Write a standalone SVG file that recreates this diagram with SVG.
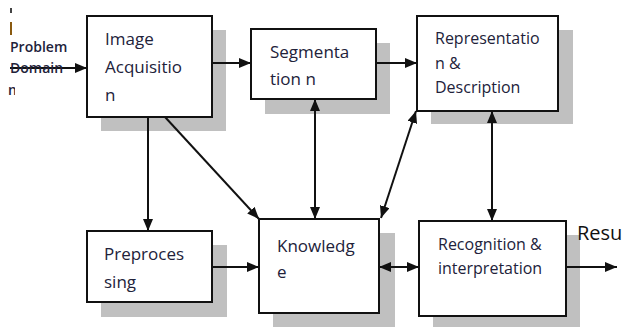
<svg xmlns="http://www.w3.org/2000/svg" width="624" height="327" viewBox="0 0 624 327">
<defs>
<style>
.box{fill:#fff;stroke:#111;stroke-width:2}
.sh{fill:#c0c0c0}
.t{font-family:"Open Sans","DejaVu Sans",sans-serif;font-size:17px;fill:#22223a}
.s{font-size:16px}
.c{stroke:#111;stroke-width:2;fill:none}
</style>
<marker id="ah" viewBox="0 0 12 10" refX="12" refY="5" markerWidth="12" markerHeight="10" markerUnits="userSpaceOnUse" orient="auto-start-reverse">
<path d="M0,0 L12,5 L0,10 Z" fill="#111"/>
</marker>
<clipPath id="clipL"><rect x="0" y="80" width="15" height="20"/></clipPath>
</defs>
<rect width="624" height="327" fill="#fff"/>
<g id="shadows">
<rect class="sh" x="101" y="30" width="125" height="101"/>
<rect class="sh" x="265" y="43" width="125" height="71"/>
<rect class="sh" x="431" y="30" width="142" height="94"/>
<rect class="sh" x="101" y="245" width="126" height="72"/>
<rect class="sh" x="273" y="233" width="122" height="100"/>
<rect class="sh" x="433" y="235" width="147" height="98"/>
</g>
<g id="connectors">
<line class="c" x1="10" y1="68" x2="87" y2="68" marker-end="url(#ah)"/>
<line class="c" x1="212" y1="63" x2="251" y2="63" marker-end="url(#ah)"/>
<line class="c" x1="376" y1="63" x2="417" y2="63" marker-end="url(#ah)"/>
<line class="c" x1="148" y1="117" x2="148" y2="231" marker-end="url(#ah)"/>
<line class="c" x1="165" y1="117" x2="259" y2="219" marker-end="url(#ah)"/>
<line class="c" x1="315" y1="99" x2="315" y2="219" marker-start="url(#ah)" marker-end="url(#ah)"/>
<line class="c" x1="381" y1="218" x2="416" y2="111" marker-start="url(#ah)" marker-end="url(#ah)"/>
<line class="c" x1="492" y1="111" x2="492" y2="221" marker-start="url(#ah)" marker-end="url(#ah)"/>
<line class="c" x1="212" y1="267" x2="259" y2="267" marker-end="url(#ah)"/>
<line class="c" x1="379" y1="267" x2="419" y2="267" marker-start="url(#ah)" marker-end="url(#ah)"/>
<line class="c" x1="566" y1="267" x2="617" y2="267" marker-end="url(#ah)"/>
</g>
<g id="problem-domain">
<line x1="11" y1="22" x2="11" y2="35" stroke="#8a5a10" stroke-width="2"/>
<line x1="11" y1="8" x2="11" y2="13" stroke="#444" stroke-width="2"/>
<text class="t" x="10" y="52" style="font-size:14px;font-weight:600">Problem</text>
<text class="t" x="10" y="73" style="font-size:14px;font-weight:600">Domain</text>
<text class="t" x="8" y="95" style="font-size:14px;font-weight:600" clip-path="url(#clipL)">n</text>
</g>
<g id="image-acquisition">
<rect class="box" x="87" y="16" width="125" height="101"/>
<text class="t" x="105" y="45">Image</text>
<text class="t" x="105" y="73">Acquisitio</text>
<text class="t" x="105" y="101">n</text>
</g>
<g id="segmentation">
<rect class="box" x="251" y="29" width="125" height="70"/>
<text class="t" x="270" y="58">Segmenta</text>
<text class="t" x="270" y="85">tion n</text>
</g>
<g id="representation">
<rect class="box" x="417" y="16" width="141" height="95"/>
<text class="t s" x="435" y="44">Representatio</text>
<text class="t s" x="435" y="69">n &amp;</text>
<text class="t s" x="435" y="93">Description</text>
</g>
<g id="preprocessing">
<rect class="box" x="87" y="231" width="125" height="71"/>
<text class="t" x="104" y="260">Preproces</text>
<text class="t" x="104" y="288">sing</text>
</g>
<g id="knowledge">
<rect class="box" x="259" y="219" width="120" height="94"/>
<text class="t" x="277" y="252">Knowledg</text>
<text class="t" x="277" y="278">e</text>
</g>
<g id="recognition">
<rect class="box" x="419" y="221" width="147" height="95"/>
<text class="t s" x="438" y="250">Recognition &amp;</text>
<text class="t s" x="438" y="274">interpretation</text>
</g>
<g id="result">
<text class="t" x="577" y="240" style="font-size:20px;fill:#111">Resu</text>
</g>
</svg>
